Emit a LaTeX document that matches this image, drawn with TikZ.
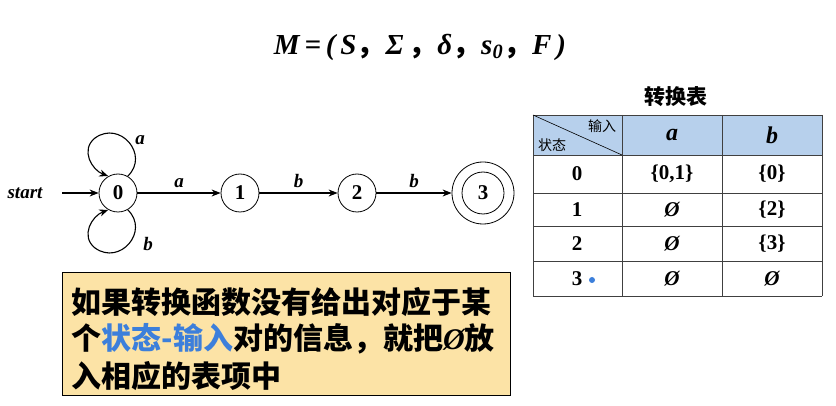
\documentclass[tikz,border=0pt]{standalone}
\usepackage{fontspec}
\setmainfont{Liberation Serif}
\newfontfamily\cjk{Noto Sans CJK SC}
\usetikzlibrary{arrows.meta}
\definecolor{hdr}{HTML}{B7D0EC}
\definecolor{note}{HTML}{FCE3A6}
\definecolor{bluet}{HTML}{3C7FDB}
\begin{document}
\begin{tikzpicture}[x=1pt,y=-1pt,
  st/.style={circle,draw,line width=0.8pt,minimum size=38pt,inner sep=0pt,font=\fontsize{21}{21}\selectfont\bfseries},
  lbl/.style={font=\fontsize{19}{19}\selectfont\bfseries\itshape},
  arr/.style={-{Stealth[length=9pt,width=7pt]},line width=1.1pt},
  cell/.style={font=\fontsize{21}{21}\selectfont\bfseries},
  ecell/.style={font=\fontsize{21}{21}\selectfont\bfseries\itshape},
  tl/.style={line width=0.8pt,draw=black!75}]
\useasboundingbox (0,0) rectangle (836,406);
\node[font=\fontsize{29}{29}\selectfont\bfseries\itshape] (title) at (420,47) {M\,=\,(\,S{\cjk\upshape ，}Σ\,{\cjk\upshape ，}δ{\cjk\upshape ，}s\textsubscript{0}{\cjk\upshape ，}F\,)};
% automaton
\node[lbl] (start) at (25,193) {start};
\node[st] (s0) at (118,193) {0};
\node[st] (s1) at (240,193) {1};
\node[st] (s2) at (357,193) {2};
\node[st,minimum size=62pt] (s3) at (483,193) {};
\node[st,minimum size=42pt] (s3i) at (483,193) {3};
\coordinate (sa) at (62,193);
\draw[arr] (sa) -- (s0);
\draw[arr] (s0) -- node[lbl,above=1pt]{a} (s1);
\draw[arr] (s1) -- node[lbl,above=1pt]{b} (s2);
\draw[arr] (s2) -- node[lbl,above=1pt]{b} (s3);
\draw[arr] (s0.60) .. controls (150,155) and (120,120) .. (95,138) .. controls (80,150) and (92,170) .. (s0.120);
\draw[arr] (s0.-60) .. controls (150,231) and (120,266) .. (95,248) .. controls (80,236) and (92,216) .. (s0.-120);
\node[lbl] (la) at (140,140) {a};
\node[lbl] (lb) at (148,244) {b};
% table
\node[font=\cjk\fontsize{21}{21}\selectfont\bfseries] (tt) at (676,97) {转换表};
\fill[hdr] (533,115) rectangle (822,155);
\foreach \y in {115,155,193,226,261,296} \draw[tl] (533,\y) -- (822,\y);
\foreach \x in {533,622,722,822} \draw[tl] (\x,115) -- (\x,296);
\draw[line width=0.6pt] (533,115) -- (622,155);
\node[font=\cjk\fontsize{14}{14}\selectfont] (hin) at (602,126) {输入};
\node[font=\cjk\fontsize{14}{14}\selectfont] (hst) at (552,145) {状态};
\node[font=\fontsize{24}{24}\selectfont\bfseries\itshape] (ha) at (672,135) {a};
\node[font=\fontsize{24}{24}\selectfont\bfseries\itshape] (hb) at (772,135) {b};
\node[cell] (r0) at (577,174) {0};
\node[cell] (r0a) at (672,174) {\{0,1\}};
\node[cell] (r0b) at (772,174) {\{0\}};
\node[cell] (r1) at (577,210) {1};
\node[ecell] (r1a) at (672,210) {Ø};
\node[cell] (r1b) at (772,210) {\{2\}};
\node[cell] (r2) at (577,244) {2};
\node[ecell] (r2a) at (672,244) {Ø};
\node[cell] (r2b) at (772,244) {\{3\}};
\node[cell] (r3) at (577,279) {3};
\fill[bluet] (592,280) circle (3pt);
\node[ecell] (r3a) at (672,279) {Ø};
\node[ecell] (r3b) at (772,279) {Ø};
% note
\draw[fill=note,line width=0.6pt] (62,272) rectangle (510,395);
\node[anchor=west,font=\cjk\fontsize{30}{30}\selectfont\bfseries] (n1) at (68,302) {如果转换函数没有给出对应于某};
\node[anchor=west,font=\cjk\fontsize{30}{30}\selectfont\bfseries] (n2) at (68,339) {个{\color{bluet}状态-输入}对的信息，就把{\rmfamily\itshape Ø}放};
\node[anchor=west,font=\cjk\fontsize{30}{30}\selectfont\bfseries] (n3) at (68,376) {入相应的表项中};
\end{tikzpicture}
\end{document}
